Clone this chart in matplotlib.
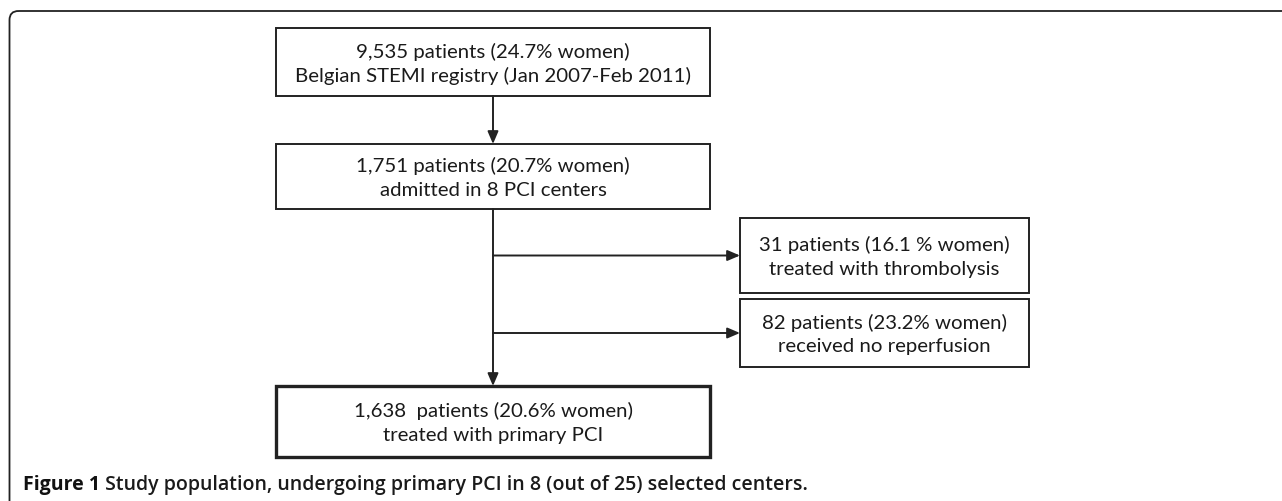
import matplotlib
matplotlib.use("Agg")
import matplotlib.pyplot as plt
from matplotlib.patches import Rectangle, FancyBboxPatch

# ---- data ----
main_texts = [
    ["9,535 patients (24.7% women)", "Belgian STEMI registry (Jan 2007-Feb 2011)"],
    ["1,751 patients (20.7% women)", "admitted in 8 PCI centers"],
    ["1,638  patients (20.6% women)", "treated with primary PCI"],
]
side_texts = [
    ["31 patients (16.1 % women)", "treated with thrombolysis"],
    ["82 patients (23.2% women)", "received no reperfusion"],
]
caption_bold = "Figure 1"
caption_rest = " Study population, undergoing primary PCI in 8 (out of 25) selected centers."

W, H = 1282, 502
fig = plt.figure(figsize=(W / 100, H / 100), dpi=100)
ax = fig.add_axes([0, 0, 1, 1])
ax.set_xlim(0, W)
ax.set_ylim(H, 0)
ax.axis("off")

ink = "#222222"
box_font = "Lato"
fs = 14.7

# outer frame
frame = FancyBboxPatch((9.5, 12), 1320, 520, boxstyle="round,pad=0,rounding_size=9",
                       fill=False, edgecolor=ink, linewidth=1.3, clip_on=True)
ax.add_patch(frame)

# main boxes geometry (x0, x1, y0, y1)
main_geo = [(276, 710, 29, 97), (276, 710, 145, 210), (276, 710, 387, 458)]
main_lw = [1.4, 1.4, 2.4]
side_geo = [(740, 1029, 219, 294), (740, 1029, 300, 368)]

def draw_box(geo, lines, lw):
    x0, x1, y0, y1 = geo
    ax.add_patch(Rectangle((x0, y0), x1 - x0, y1 - y0, fill=False,
                           edgecolor=ink, linewidth=lw))
    cy = (y0 + y1) / 2
    for off, line in zip((-11.5, 13.0), lines):
        ax.text((x0 + x1) / 2, cy + off, line, ha="center", va="center",
                fontsize=fs, family=box_font, color="#1a1a1a")

for g, t, lw in zip(main_geo, main_texts, main_lw):
    draw_box(g, t, lw)
for g, t in zip(side_geo, side_texts):
    draw_box(g, t, 1.4)

cx = (main_geo[0][0] + main_geo[0][1]) / 2

def arrow(x0, y0, x1, y1):
    ax.annotate("", xy=(x1, y1), xytext=(x0, y0),
                arrowprops=dict(arrowstyle="-|>,head_length=0.75,head_width=0.32",
                                color=ink, lw=1.4, shrinkA=0, shrinkB=0))

arrow(cx, main_geo[0][3], cx, main_geo[1][2])
arrow(cx, main_geo[1][3], cx, main_geo[2][2])
for g in side_geo:
    ym = (g[2] + g[3]) / 2
    arrow(cx, ym, g[0], ym)

# caption
cap_fs = 14.0
t1 = ax.text(23, 485, caption_bold, ha="left", va="center", fontsize=cap_fs,
             family="Open Sans", fontweight="bold", color="#111111")
fig.canvas.draw()
bb = t1.get_window_extent()
x_end = ax.transData.inverted().transform((bb.x1, bb.y0))[0]
ax.text(x_end, 485, caption_rest, ha="left", va="center", fontsize=cap_fs,
        family="Open Sans", fontweight="semibold", color="#1a1a1a")

fig.savefig("out.png", dpi=100)
